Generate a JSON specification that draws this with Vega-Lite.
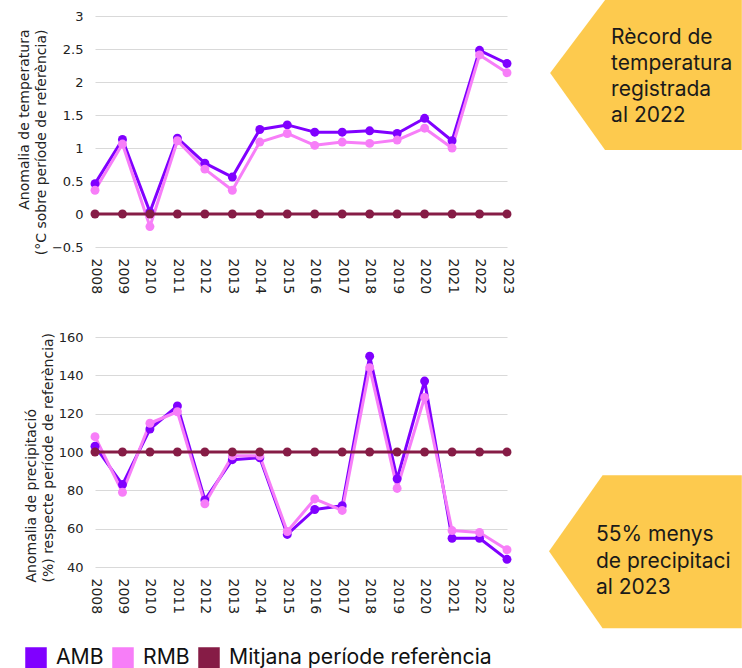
{
  "$schema": "https://vega.github.io/schema/vega-lite/v6.json",
  "padding": {"left": 17, "top": 0, "right": 0, "bottom": 0},
  "config": {
    "view": {"stroke": null},
    "axis": {
      "labelFont": "DejaVu Sans",
      "titleFont": "DejaVu Sans",
      "labelColor": "#222222",
      "titleColor": "#222222",
      "titleFontWeight": "normal",
      "titleFontSize": 14,
      "titleLineHeight": 17,
      "gridColor": "#d9d9d9",
      "gridWidth": 1,
      "domain": false,
      "ticks": false,
      "tickSize": 0
    },
    "legend": {
      "orient": "none",
      "legendX": -70,
      "legendY": 631,
      "direction": "horizontal",
      "symbolType": "square",
      "symbolSize": 400,
      "labelFont": "Inter",
      "labelFontSize": 21.2,
      "labelColor": "#111111",
      "labelOffset": 9,
      "labelLimit": 0,
      "columnPadding": 6,
      "padding": 0
    }
  },
  "datasets": {
    "temp": [
      {"year": 2008, "series": "AMB", "value": 0.46},
      {"year": 2009, "series": "AMB", "value": 1.13},
      {"year": 2010, "series": "AMB", "value": 0.03},
      {"year": 2011, "series": "AMB", "value": 1.15},
      {"year": 2012, "series": "AMB", "value": 0.77},
      {"year": 2013, "series": "AMB", "value": 0.56},
      {"year": 2014, "series": "AMB", "value": 1.28},
      {"year": 2015, "series": "AMB", "value": 1.35},
      {"year": 2016, "series": "AMB", "value": 1.24},
      {"year": 2017, "series": "AMB", "value": 1.24},
      {"year": 2018, "series": "AMB", "value": 1.26},
      {"year": 2019, "series": "AMB", "value": 1.22},
      {"year": 2020, "series": "AMB", "value": 1.45},
      {"year": 2021, "series": "AMB", "value": 1.11},
      {"year": 2022, "series": "AMB", "value": 2.48},
      {"year": 2023, "series": "AMB", "value": 2.28},
      {"year": 2008, "series": "RMB", "value": 0.36},
      {"year": 2009, "series": "RMB", "value": 1.06},
      {"year": 2010, "series": "RMB", "value": -0.19},
      {"year": 2011, "series": "RMB", "value": 1.11},
      {"year": 2012, "series": "RMB", "value": 0.68},
      {"year": 2013, "series": "RMB", "value": 0.36},
      {"year": 2014, "series": "RMB", "value": 1.09},
      {"year": 2015, "series": "RMB", "value": 1.22},
      {"year": 2016, "series": "RMB", "value": 1.04},
      {"year": 2017, "series": "RMB", "value": 1.09},
      {"year": 2018, "series": "RMB", "value": 1.07},
      {"year": 2019, "series": "RMB", "value": 1.12},
      {"year": 2020, "series": "RMB", "value": 1.3},
      {"year": 2021, "series": "RMB", "value": 1.0},
      {"year": 2022, "series": "RMB", "value": 2.41},
      {"year": 2023, "series": "RMB", "value": 2.14},
      {"year": 2008, "series": "Mitjana període referència", "value": 0},
      {"year": 2009, "series": "Mitjana període referència", "value": 0},
      {"year": 2010, "series": "Mitjana període referència", "value": 0},
      {"year": 2011, "series": "Mitjana període referència", "value": 0},
      {"year": 2012, "series": "Mitjana període referència", "value": 0},
      {"year": 2013, "series": "Mitjana període referència", "value": 0},
      {"year": 2014, "series": "Mitjana període referència", "value": 0},
      {"year": 2015, "series": "Mitjana període referència", "value": 0},
      {"year": 2016, "series": "Mitjana període referència", "value": 0},
      {"year": 2017, "series": "Mitjana període referència", "value": 0},
      {"year": 2018, "series": "Mitjana període referència", "value": 0},
      {"year": 2019, "series": "Mitjana període referència", "value": 0},
      {"year": 2020, "series": "Mitjana període referència", "value": 0},
      {"year": 2021, "series": "Mitjana període referència", "value": 0},
      {"year": 2022, "series": "Mitjana període referència", "value": 0},
      {"year": 2023, "series": "Mitjana període referència", "value": 0}
    ],
    "prec": [
      {"year": 2008, "series": "AMB", "value": 103},
      {"year": 2009, "series": "AMB", "value": 83},
      {"year": 2010, "series": "AMB", "value": 112},
      {"year": 2011, "series": "AMB", "value": 124},
      {"year": 2012, "series": "AMB", "value": 75},
      {"year": 2013, "series": "AMB", "value": 96},
      {"year": 2014, "series": "AMB", "value": 97},
      {"year": 2015, "series": "AMB", "value": 57},
      {"year": 2016, "series": "AMB", "value": 70},
      {"year": 2017, "series": "AMB", "value": 72},
      {"year": 2018, "series": "AMB", "value": 150},
      {"year": 2019, "series": "AMB", "value": 86},
      {"year": 2020, "series": "AMB", "value": 137},
      {"year": 2021, "series": "AMB", "value": 55},
      {"year": 2022, "series": "AMB", "value": 55},
      {"year": 2023, "series": "AMB", "value": 44},
      {"year": 2008, "series": "RMB", "value": 108},
      {"year": 2009, "series": "RMB", "value": 79},
      {"year": 2010, "series": "RMB", "value": 115},
      {"year": 2011, "series": "RMB", "value": 121},
      {"year": 2012, "series": "RMB", "value": 73},
      {"year": 2013, "series": "RMB", "value": 98},
      {"year": 2014, "series": "RMB", "value": 98},
      {"year": 2015, "series": "RMB", "value": 58.5},
      {"year": 2016, "series": "RMB", "value": 75.5},
      {"year": 2017, "series": "RMB", "value": 69.5},
      {"year": 2018, "series": "RMB", "value": 144},
      {"year": 2019, "series": "RMB", "value": 81},
      {"year": 2020, "series": "RMB", "value": 128.5},
      {"year": 2021, "series": "RMB", "value": 59},
      {"year": 2022, "series": "RMB", "value": 58},
      {"year": 2023, "series": "RMB", "value": 49},
      {"year": 2008, "series": "Mitjana període referència", "value": 100},
      {"year": 2009, "series": "Mitjana període referència", "value": 100},
      {"year": 2010, "series": "Mitjana període referència", "value": 100},
      {"year": 2011, "series": "Mitjana període referència", "value": 100},
      {"year": 2012, "series": "Mitjana període referència", "value": 100},
      {"year": 2013, "series": "Mitjana període referència", "value": 100},
      {"year": 2014, "series": "Mitjana període referència", "value": 100},
      {"year": 2015, "series": "Mitjana període referència", "value": 100},
      {"year": 2016, "series": "Mitjana període referència", "value": 100},
      {"year": 2017, "series": "Mitjana període referència", "value": 100},
      {"year": 2018, "series": "Mitjana període referència", "value": 100},
      {"year": 2019, "series": "Mitjana període referència", "value": 100},
      {"year": 2020, "series": "Mitjana període referència", "value": 100},
      {"year": 2021, "series": "Mitjana període referència", "value": 100},
      {"year": 2022, "series": "Mitjana període referència", "value": 100},
      {"year": 2023, "series": "Mitjana període referència", "value": 100}
    ],
    "tempCallout": [
      {"year": 2024.57, "value": 2.136, "value2": 2.136},
      {"year": 2026.57, "value": 3.242, "value2": 0.97},
      {"year": 2031.55, "value": 3.242, "value2": 0.97}
    ],
    "tempText": [
      {"year": 2026.79, "value": 2.667, "label": "Rècord de\ntemperatura\nregistrada\nal 2022"}
    ],
    "precCallout": [
      {"year": 2024.53, "value": 48.2, "value2": 48.2},
      {"year": 2026.48, "value": 87.84, "value2": 8.0},
      {"year": 2031.55, "value": 87.84, "value2": 8.0}
    ],
    "precText": [
      {"year": 2026.24, "value": 56.5, "label": "55% menys\nde precipitació\nal 2023"}
    ]
  },
  "spacing": 37,
  "vconcat": [
    {
      "width": 412,
      "height": 231,
      "encoding": {
        "x": {
          "field": "year", "type": "quantitative",
          "scale": {"domain": [2008, 2023], "nice": false, "zero": false},
          "axis": {"title": null, "values": [2008, 2009, 2010, 2011, 2012, 2013, 2014, 2015, 2016, 2017, 2018, 2019, 2020, 2021, 2022, 2023], "format": "d", "labelAngle": 90, "labelFontSize": 14, "labelPadding": 11, "grid": false, "labelOverlap": false}
        },
        "y": {
          "field": "value", "type": "quantitative",
          "scale": {"domain": [-0.5, 3], "nice": false, "zero": false},
          "axis": {"title": ["Anomalia de temperatura", "(°C sobre període de referència)"], "values": [-0.5, 0, 0.5, 1, 1.5, 2, 2.5, 3], "format": "~g", "labelFontSize": 13, "labelPadding": 12, "titlePadding": 3, "titleAlign": "right", "titleY": 13, "grid": true}
        }
      },
      "layer": [
        {
          "data": {"name": "tempCallout"},
          "mark": {"type": "area", "color": "#fdca4e", "clip": false},
          "encoding": {"y2": {"field": "value2"}}
        },
        {
          "data": {"name": "tempText"},
          "mark": {"type": "text", "align": "left", "baseline": "middle", "font": "Inter", "fontSize": 21, "lineHeight": 26, "lineBreak": "\n", "color": "#1a1a1a"},
          "encoding": {"text": {"field": "label"}}
        },
        {
          "data": {"name": "temp"},
          "mark": {"type": "line", "strokeWidth": 3, "strokeJoin": "round", "point": {"filled": true, "size": 80}},
          "encoding": {
            "color": {
              "field": "series", "type": "nominal",
              "scale": {"domain": ["AMB", "RMB", "Mitjana període referència"], "range": ["#8000ff", "#f77ef8", "#861c46"]},
              "legend": {"title": null, "encode": {"symbols": {"update": {"fill": {"scale": "color", "field": "value"}, "stroke": {"value": "transparent"}, "opacity": {"value": 1}}}}}
            }
          }
        }
      ]
    },
    {
      "width": 412,
      "height": 230,
      "encoding": {
        "x": {
          "field": "year", "type": "quantitative",
          "scale": {"domain": [2008, 2023], "nice": false, "zero": false},
          "axis": {"title": null, "values": [2008, 2009, 2010, 2011, 2012, 2013, 2014, 2015, 2016, 2017, 2018, 2019, 2020, 2021, 2022, 2023], "format": "d", "labelAngle": 90, "labelFontSize": 14, "labelPadding": 11, "grid": false, "labelOverlap": false}
        },
        "y": {
          "field": "value", "type": "quantitative",
          "scale": {"domain": [40, 160], "nice": false, "zero": false},
          "axis": {"title": ["Anomalia de precipitació", "(%) respecte període de referència)"], "values": [40, 60, 80, 100, 120, 140, 160], "format": "d", "labelFontSize": 13, "labelPadding": 12, "titlePadding": 3, "titleAlign": "left", "titleY": 245, "grid": true}
        }
      },
      "layer": [
        {
          "data": {"name": "precCallout"},
          "mark": {"type": "area", "color": "#fdca4e", "clip": false},
          "encoding": {"y2": {"field": "value2"}}
        },
        {
          "data": {"name": "precText"},
          "mark": {"type": "text", "align": "left", "baseline": "middle", "font": "Inter", "fontSize": 21, "lineHeight": 26.5, "lineBreak": "\n", "color": "#1a1a1a", "limit": 146, "ellipsis": "\u200b"},
          "encoding": {"text": {"field": "label"}}
        },
        {
          "data": {"name": "prec"},
          "mark": {"type": "line", "strokeWidth": 3, "strokeJoin": "round", "point": {"filled": true, "size": 80}},
          "encoding": {
            "color": {
              "field": "series", "type": "nominal",
              "scale": {"domain": ["AMB", "RMB", "Mitjana període referència"], "range": ["#8000ff", "#f77ef8", "#861c46"]},
              "legend": {"title": null, "encode": {"symbols": {"update": {"fill": {"scale": "color", "field": "value"}, "stroke": {"value": "transparent"}, "opacity": {"value": 1}}}}}
            }
          }
        }
      ]
    }
  ]
}
